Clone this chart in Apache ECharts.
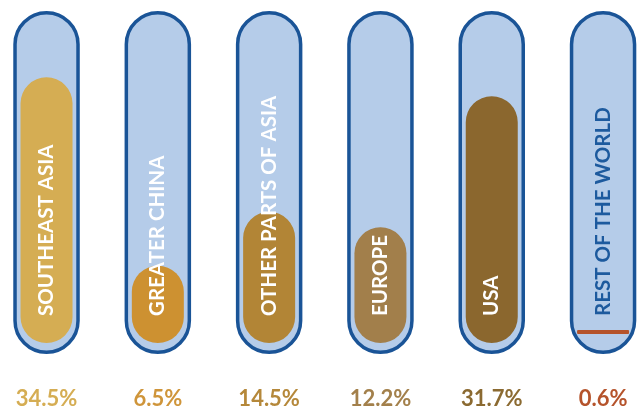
<!DOCTYPE html>
<html><head><meta charset="utf-8">
<script src="https://cdn.jsdelivr.net/npm/echarts@6/dist/echarts.min.js"></script>
<style>html,body{margin:0;padding:0;background:#fff}#c{width:637px;height:408px}</style>
</head><body><div id="c"></div>
<script>
const categories = ['SOUTHEAST ASIA','GREATER CHINA','OTHER PARTS OF ASIA','EUROPE','USA','REST OF THE WORLD'];
const shares = [34.5, 6.5, 14.5, 12.2, 31.7, 0.6];
const shareLabels = ['34.5%','6.5%','14.5%','12.2%','31.7%','0.6%'];
const barColors = ['#d5ad53','#cd9131','#b28536','#a27f4b','#8b672e','#b5532b'];
const pctColors = ['#d5ad53','#cf953a','#b5883a','#a3804b','#8b6a31','#b5532b'];
const nameColors = ['#ffffff','#ffffff','#ffffff','#ffffff','#ffffff','#1d5a9e'];

const Y_MIN = -5, Y_MAX = 46;
const X_MIN = -0.418, X_MAX = 5.305;
const TUBE_FILL = '#b5cce9', TUBE_STROKE = '#1a5497';

const chart = echarts.init(document.getElementById('c'), null, {renderer: 'canvas'});

function renderItem(params, api) {
  const i = api.value(0);
  const v = api.value(1);
  const base = api.coord([i, Y_MIN]);
  const cx = base[0], by = base[1];
  const topY = api.coord([i, v])[1];
  const gridTop = api.coord([i, Y_MAX])[1];
  const bw = 52, half = bw / 2;
  const children = [];
  children.push({
    type: 'rect',
    shape: {x: cx - 31.5, y: gridTop + 12.75, width: 63, height: (by + 9.25) - (gridTop + 12.75), r: 31.5},
    style: {fill: TUBE_FILL, stroke: TUBE_STROKE, lineWidth: 3.5}
  });
  const h = by - topY;
  if (h >= bw) {
    children.push({
      type: 'rect',
      shape: {x: cx - half, y: topY, width: bw, height: h, r: half},
      style: {fill: barColors[i]}
    });
  } else {
    children.push({
      type: 'rect',
      shape: {x: cx - half, y: by - 13, width: bw, height: 4, r: 1},
      style: {fill: barColors[i]}
    });
  }
  children.push({
    type: 'text',
    x: cx, y: by - 27,
    rotation: Math.PI / 2,
    style: {
      text: categories[i], x: 0, y: 0,
      align: 'left', verticalAlign: 'middle',
      fill: nameColors[i],
      font: 'bold 20.5px Lato, "Open Sans", sans-serif'
    }
  });
  children.push({
    type: 'text',
    x: cx, y: 399,
    style: {
      text: shareLabels[i], x: 0, y: 0,
      align: 'center', verticalAlign: 'middle',
      fill: pctColors[i],
      font: 'bold 22px Lato, "Open Sans", sans-serif'
    }
  });
  return {type: 'group', children};
}

chart.setOption({
  animation: false,
  grid: {left: 0, right: 0, top: 0, bottom: 65},
  xAxis: {type: 'value', min: X_MIN, max: X_MAX, show: false},
  yAxis: {type: 'value', min: Y_MIN, max: Y_MAX, show: false},
  series: [{
    type: 'custom',
    renderItem: renderItem,
    clip: false,
    encode: {x: 0, y: 1},
    data: shares.map((v, i) => [i, v])
  }]
});
</script></body></html>
